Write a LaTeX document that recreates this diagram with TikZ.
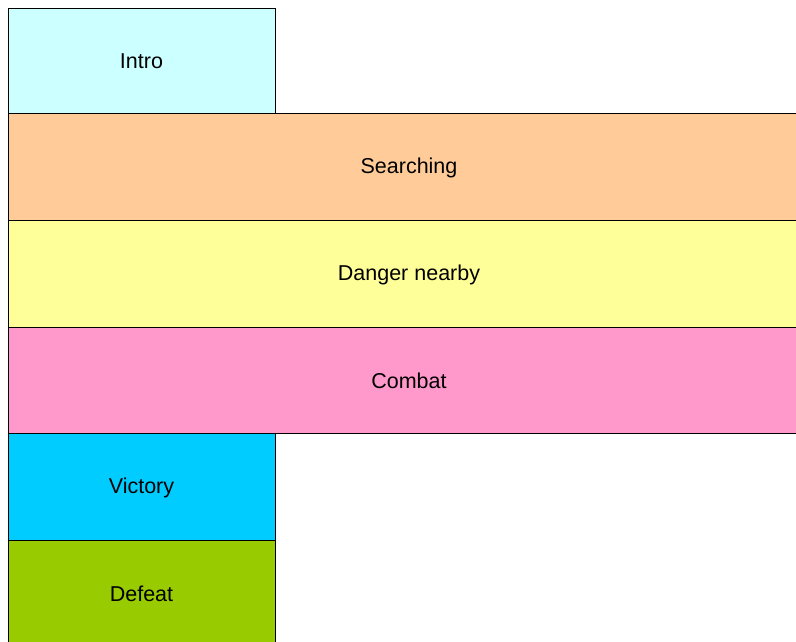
\documentclass[tikz,border=0pt]{standalone}
\usepackage{fontspec}
\setmainfont{Liberation Sans}
\definecolor{cintro}{HTML}{CCFFFF}
\definecolor{csearch}{HTML}{FFCC99}
\definecolor{cdanger}{HTML}{FFFF99}
\definecolor{ccombat}{HTML}{FF99CC}
\definecolor{cvictory}{HTML}{00CCFF}
\definecolor{cdefeat}{HTML}{99CC00}
\begin{document}
\begin{tikzpicture}[x=1pt,y=-1pt,
  band/.style={draw=black,line width=0.8pt,font=\fontsize{21.5}{26}\selectfont}]
\useasboundingbox (0,0) rectangle (796,642);
\clip (0,0) rectangle (796,642);
\fill[white] (0,0) rectangle (796,642);
\draw[band,fill=cintro] (8,8) rectangle (275,113);
\draw[band,fill=csearch] (8,113) rectangle (810,220);
\draw[band,fill=cdanger] (8,220) rectangle (810,327);
\draw[band,fill=ccombat] (8,327) rectangle (810,433);
\draw[band,fill=cvictory] (8,433) rectangle (275,540);
\draw[band,fill=cdefeat] (8,540) rectangle (275,660);
\node[band,draw=none] (intro) at (141.5,61) {Intro};
\node[band,draw=none] (search) at (409,167.5) {Searching};
\node[band,draw=none] (danger) at (409,274.5) {Danger nearby};
\node[band,draw=none] (combat) at (409,381) {Combat};
\node[band,draw=none] (victory) at (141.5,487.5) {Victory};
\node[band,draw=none] (defeat) at (141.5,594) {Defeat};
\end{tikzpicture}
\end{document}
